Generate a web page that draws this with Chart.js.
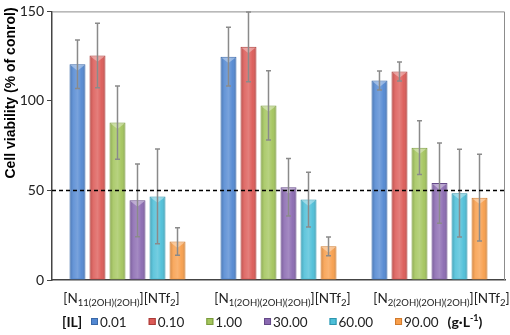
<!DOCTYPE html>
<html lang="en">
<head>
<meta charset="UTF-8">
<title>Cell viability</title>
<script src="https://cdn.jsdelivr.net/npm/chart.js"></script>
<style>
  html, body { margin: 0; padding: 0; background: #fff; }
  #wrap { width: 510px; height: 335px; }
</style>
</head>
<body>
<div id="wrap"><canvas id="viabilityChart"></canvas></div>
<script>
// categories: [main, subscript, main, subscript, main]
const categories = [
  ['[N', '11(2OH)(2OH)', '][NTf', '2', ']'],
  ['[N', '1(2OH)(2OH)(2OH)', '][NTf', '2', ']'],
  ['[N', '2(2OH)(2OH)(2OH)', '][NTf', '2', ']']
];
const concentrations = ['0.01', '0.10', '1.00', '30.00', '60.00', '90.00'];
const yTicks = [0, 50, 100, 150];
const thresholdValue = 50;

const v001 = [120.5, 124.7, 111.4];
const v010 = [125.4, 130.2, 116.5];
const v100 = [87.9, 97.5, 73.9];
const v3000 = [44.5, 51.8, 54.1];
const v6000 = [46.7, 44.9, 48.5];
const v9000 = [21.5, 18.8, 46.0];

const e001 = [13.5, 16.4, 5.3];
const e010 = [18.0, 19.5, 5.3];
const e100 = [20.5, 19.3, 15.0];
const e3000 = [20.3, 16.0, 22.4];
const e6000 = [26.5, 15.3, 24.5];
const e9000 = [7.7, 5.2, 24.2];

const seriesValues = [v001, v010, v100, v3000, v6000, v9000];
const seriesErrors = [e001, e010, e100, e3000, e6000, e9000];

const fillColors = ['#5288d2', '#dc5a56', '#a3c55c', '#8a69b1', '#4dbfd8', '#f89e4b'];
const edgeColors = ['#3a68a8', '#a93c39', '#7a9a3e', '#654a88', '#2f95ad', '#d07a2c'];

const textFont = '"Lato", "Open Sans", sans-serif';
const labelShift = [-6, 4, 12];

// gradient + bevel on bars, error bars, threshold line
const decorPlugin = {
  id: 'decor',
  afterDatasetsDraw(chart) {
    const ctx = chart.ctx;
    const yScale = chart.scales.y;
    const area = chart.chartArea;
    chart.data.datasets.forEach((ds, di) => {
      const meta = chart.getDatasetMeta(di);
      meta.data.forEach((bar, i) => {
        const left = bar.x - bar.width / 2, right = bar.x + bar.width / 2;
        const g = ctx.createLinearGradient(left, 0, right, 0);
        g.addColorStop(0, 'rgba(0,0,0,0.18)');
        g.addColorStop(0.25, 'rgba(255,255,255,0.12)');
        g.addColorStop(0.5, 'rgba(255,255,255,0.22)');
        g.addColorStop(0.75, 'rgba(255,255,255,0.05)');
        g.addColorStop(1, 'rgba(0,0,0,0.2)');
        ctx.save();
        ctx.fillStyle = g;
        ctx.fillRect(left + 1, bar.y + 1, bar.width - 2, bar.base - bar.y - 2);
        // top bevel triangle
        ctx.fillStyle = 'rgba(255,255,255,0.35)';
        ctx.beginPath();
        ctx.moveTo(left + 1, bar.y + 1);
        ctx.lineTo(right - 1, bar.y + 1);
        ctx.lineTo(bar.x, bar.y + bar.width / 2.5);
        ctx.closePath();
        ctx.fill();
        ctx.restore();
      });
    });
    // error bars
    ctx.save();
    ctx.strokeStyle = '#8a8a8a';
    ctx.lineWidth = 1.5;
    chart.data.datasets.forEach((ds, di) => {
      const meta = chart.getDatasetMeta(di);
      meta.data.forEach((bar, i) => {
        const val = ds.data[i], err = seriesErrors[di][i];
        const yt = yScale.getPixelForValue(val + err);
        const yb = yScale.getPixelForValue(val - err);
        ctx.beginPath();
        ctx.moveTo(bar.x, yt); ctx.lineTo(bar.x, yb);
        ctx.moveTo(bar.x - 2.5, yt); ctx.lineTo(bar.x + 2.5, yt);
        ctx.moveTo(bar.x - 2.5, yb); ctx.lineTo(bar.x + 2.5, yb);
        ctx.stroke();
      });
    });
    ctx.restore();
    // threshold dashed line
    const y50 = yScale.getPixelForValue(thresholdValue);
    ctx.save();
    ctx.strokeStyle = '#000';
    ctx.lineWidth = 1.5;
    ctx.setLineDash([4, 3]);
    ctx.beginPath();
    ctx.moveTo(area.left, y50);
    ctx.lineTo(area.right, y50);
    ctx.stroke();
    ctx.restore();
  },
  beforeDatasetsDraw(chart) {
    const ctx = chart.ctx, a = chart.chartArea;
    ctx.save();
    ctx.strokeStyle = '#8c8c8c';
    ctx.lineWidth = 1;
    ctx.beginPath();
    ctx.moveTo(a.left, a.top + 0.5);
    ctx.lineTo(a.right - 0.5, a.top + 0.5);
    ctx.lineTo(a.right - 0.5, a.bottom);
    ctx.stroke();
    ctx.restore();
  },
  afterDraw(chart) {
    const ctx = chart.ctx;
    const xScale = chart.scales.x;
    ctx.save();
    // y axis title
    ctx.translate(11, 93);
    ctx.rotate(-Math.PI / 2);
    ctx.font = 'bold 14px "Liberation Sans", Arial, sans-serif';
    ctx.fillStyle = '#000';
    ctx.textAlign = 'center';
    ctx.textBaseline = 'middle';
    ctx.fillText('Cell viability (% of conrol)', 0, 0);
    ctx.restore();

    // category labels with subscripts
    ctx.save();
    ctx.fillStyle = '#222';
    ctx.textBaseline = 'alphabetic';
    categories.forEach((parts, i) => {
      const mainF = '13.5px ' + textFont, subF = '9.5px ' + textFont;
      let w = 0;
      parts.forEach((p, k) => { ctx.font = k % 2 ? subF : mainF; w += ctx.measureText(p).width; });
      let x = xScale.getPixelForValue(i) + labelShift[i] - w / 2;
      parts.forEach((p, k) => {
        ctx.font = k % 2 ? subF : mainF;
        ctx.fillText(p, x, k % 2 ? 306 : 303);
        x += ctx.measureText(p).width;
      });
    });
    // legend
    const ly = 327;
    ctx.font = 'bold 14px ' + textFont;
    ctx.fillStyle = '#111';
    ctx.fillText('[IL]', 62, ly);
    let x = 91;
    concentrations.forEach((c, i) => {
      ctx.fillStyle = fillColors[i];
      ctx.fillRect(x, ly - 9, 7, 7);
      ctx.strokeStyle = edgeColors[i];
      ctx.lineWidth = 1;
      ctx.strokeRect(x + 0.5, ly - 8.5, 6, 6);
      ctx.font = '13.5px ' + textFont;
      ctx.fillStyle = '#222';
      ctx.fillText(c, x + 9, ly);
      x += 9 + ctx.measureText(c).width + 22;
    });
    ctx.font = 'bold 14px ' + textFont;
    ctx.fillStyle = '#111';
    x -= 13;
    ctx.fillText('(g\u00b7L', x, ly);
    x += ctx.measureText('(g\u00b7L').width;
    ctx.font = 'bold 9px ' + textFont;
    ctx.fillText('-1', x, ly - 6);
    x += ctx.measureText('-1').width;
    ctx.font = 'bold 14px ' + textFont;
    ctx.fillText(')', x, ly);
    ctx.restore();
  }
};

const datasets = concentrations.map((c, i) => ({
  label: c,
  data: seriesValues[i],
  backgroundColor: fillColors[i],
  borderColor: edgeColors[i],
  borderWidth: 1,
  categoryPercentage: 0.795,
  barPercentage: 0.8
}));

new Chart(document.getElementById('viabilityChart'), {
  type: 'bar',
  data: { labels: categories.map(p => p.join('')), datasets: datasets },
  plugins: [decorPlugin],
  options: {
    responsive: true,
    maintainAspectRatio: false,
    animation: false,
    layout: { padding: { top: 8, right: 5, left: 0, bottom: 0 } },
    plugins: { legend: { display: false }, tooltip: { enabled: false } },
    scales: {
      x: {
        ticks: { display: false },
        grid: { display: false },
        border: { display: true, color: '#444', width: 1.5 },
        afterFit(scale) { scale.height = 55; }
      },
      y: {
        min: 0,
        max: 150,
        afterBuildTicks(scale) { scale.ticks = yTicks.map(v => ({ value: v })); },
        ticks: { color: '#222', font: { family: textFont, size: 14 }, padding: 3 },
        grid: { drawOnChartArea: false, tickLength: 5, color: '#444' },
        border: { display: true, color: '#444', width: 1.5 },
        title: { display: false },
        afterFit(scale) { scale.width = 52; }
      }
    }
  }
});
</script>
</body>
</html>
